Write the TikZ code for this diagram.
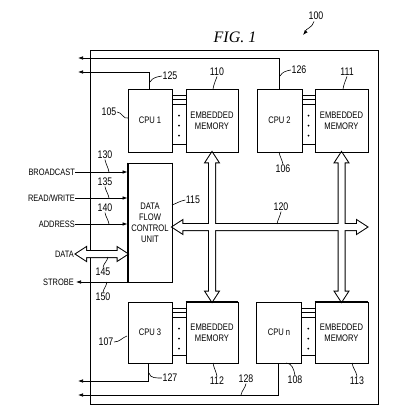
\documentclass[tikz,border=0pt]{standalone}
\usepackage{fontspec}
\setmainfont{Liberation Serif}
\newfontfamily\nsf[FakeStretch=0.8]{Liberation Sans}
\usetikzlibrary{calc,arrows.meta}
\newcommand\vbusp[3]{\draw[#1] (#2) -- ($(#2)+(\hh,\hl)$) -- ($(#2)+(\hw,\hl)$) -- ($(#3)+(\hw,-\hl)$) -- ($(#3)+(\hh,-\hl)$) -- (#3) -- ($(#3)+(-\hh,-\hl)$) -- ($(#3)+(-\hw,-\hl)$) -- ($(#2)+(-\hw,\hl)$) -- ($(#2)+(-\hh,\hl)$) -- cycle;}
\newcommand\hbusp[3]{\draw[#1] (#2) -- ($(#2)+(\hl,-\hh)$) -- ($(#2)+(\hl,-\hw)$) -- ($(#3)+(-\hl,-\hw)$) -- ($(#3)+(-\hl,-\hh)$) -- (#3) -- ($(#3)+(-\hl,\hh)$) -- ($(#3)+(-\hl,\hw)$) -- ($(#2)+(\hl,\hw)$) -- ($(#2)+(\hl,\hh)$) -- cycle;}
\newcommand\cbus[2]{%
  \draw[thin line] ($(#1.north east)+(0,7)$) -- ($(#2.north west |- #1.north east)+(0,7)$);
  \draw[thin line] ($(#1.north east)+(0,11)$) -- ($(#2.north west |- #1.north east)+(0,11)$);
  \draw[thin line] ($(#1.north east)+(0,16)$) -- ($(#2.north west |- #1.north east)+(0,16)$);
  \draw[thin line] ($(#1.south east)+(0,-8)$) -- ($(#2.south west |- #1.south east)+(0,-8)$);
  \foreach \dy in {27,37,47} {\fill ($(#1.north east)!0.5!(#2.north west |- #1.north east)+(0,\dy)$) circle (1pt);}
}
\newcommand\lab[6]{\node[num] (#1) at (#3) {#2}; \coordinate (#1e) at (#5); \draw[lead] (#1.#4) to[#6] (#1e);}
\def\hw{3}\def\hh{6.5}\def\hl{10}
\begin{document}
\begin{tikzpicture}[x=1pt,y=-1pt,
  box/.style={draw, line width=0.9pt, inner sep=0pt, align=center, font=\nsf\fontsize{9.5}{11}\selectfont},
  num/.style={inner sep=0.5pt, font=\nsf\fontsize{11}{12}\selectfont},
  signame/.style={inner sep=0pt, anchor=east, font=\nsf\fontsize{9.3}{10}\selectfont},
  lead/.style={line width=0.6pt},
  thin line/.style={line width=0.7pt},
  sig/.style={line width=0.7pt, -{Latex[length=5pt,width=3.6pt]}},
  busline/.style={line width=2pt},
  busfill/.style={fill=white, draw=none}]
\useasboundingbox (0,0) rectangle (401,415);
% frame
\draw[line width=0.9pt] (90,50) rectangle (378,404);
\node[anchor=base, font=\itshape\fontsize{16}{16}\selectfont] (fig) at (235,42.5) {FIG. 1};
% boxes
\node[box, minimum width=44pt, minimum height=63pt] (cpu1) at (150,120.5) {CPU 1};
\node[box, minimum width=52pt, minimum height=63pt] (m110) at (212,120.5) {EMBEDDED\\MEMORY};
\node[box, minimum width=45pt, minimum height=63pt] (cpu2) at (279.5,120.5) {CPU 2};
\node[box, minimum width=53pt, minimum height=63pt] (m111) at (341.5,120.5) {EMBEDDED\\MEMORY};
\node[box, minimum width=44pt, minimum height=119pt] (dfcu) at (150,222.5) {DATA\\FLOW\\CONTROL\\UNIT};
\node[box, minimum width=44pt, minimum height=61pt] (cpu3) at (150,332.5) {CPU 3};
\node[box, minimum width=52pt, minimum height=61pt] (m112) at (212,332.5) {EMBEDDED\\MEMORY};
\node[box, minimum width=45pt, minimum height=61pt] (cpun) at (279,332.5) {CPU n};
\node[box, minimum width=53pt, minimum height=61pt] (m113) at (341.5,332.5) {EMBEDDED\\MEMORY};
% cpu-memory buses
\cbus{cpu1}{m110}
\cbus{cpu2}{m111}
\cbus{cpu3}{m112}
\cbus{cpun}{m113}
% wide buses
\coordinate (hL) at ($(dfcu.east)+(0,4.5)$);
\coordinate (hR) at (367,227);
\coordinate (dL) at (76,254);
\coordinate (dR) at (dfcu.west |- dL);
\vbusp{busline}{m110.south}{m112.north}
\vbusp{busline}{m111.south}{m113.north}
\hbusp{busline}{hL}{hR}
\hbusp{busline}{dL}{dR}
\vbusp{busfill}{m110.south}{m112.north}
\vbusp{busfill}{m111.south}{m113.north}
\hbusp{busfill}{hL}{hR}
\hbusp{busfill}{dL}{dR}
\draw[line width=0.9pt] (m110.south west) -- (m110.south east) (m111.south west) -- (m111.south east)
  (m112.north west) -- (m112.north east) (m113.north west) -- (m113.north east)
  (dfcu.north east) -- (dfcu.south east) (dfcu.north west) -- (dfcu.south west);
% signal names
\node[signame] (bc) at (75,172) {BROADCAST};
\node[signame] (rw) at (75,198) {READ/WRITE};
\node[signame] (ad) at (75,224) {ADDRESS};
\node[signame] (da) at (74,254) {DATA};
\node[signame] (st) at (74,282) {STROBE};
\draw[sig] (bc.east) -- (bc.east -| dfcu.west);
\draw[sig] (rw.east) -- (rw.east -| dfcu.west);
\draw[sig] (ad.east) -- (ad.east -| dfcu.west);
\draw[sig] (st.east -| dfcu.west) -- ($(st.east)+(2,0)$);
% outputs
\coordinate (o1) at (78,72);
\coordinate (o2) at (78,58);
\coordinate (o3) at (78,381);
\coordinate (o4) at (78,395);
\draw[sig] ($(cpu1.north)+(-1,0)$) |- (o1);
\draw[sig] (cpu2.north) |- (o2);
\draw[sig] ($(cpu3.south)+(-2,0)$) |- (o3);
\draw[sig] ($(cpun.south)+(-1,0)$) |- (o4);
% reference labels
\node[num] (l100) at (316,16) {100};
\coordinate (l100e) at (303,35);
\draw[lead, -{Latex[length=5pt,width=3.6pt]}] ($(l100.south)+(-2,1)$) to[out=240,in=20] ($(l100e)!0.5!($(l100.south)+(-2,1)$)$) to[out=200,in=50] (l100e);
\lab{l125}{125}{170,76}{west}{150,82}{out=190,in=60}
\lab{l110}{110}{217,72}{south}{213,89}{out=250,in=80}
\lab{l126}{126}{299,70}{west}{280,76}{out=190,in=60}
\lab{l111}{111}{347,72}{south}{343,89}{out=250,in=80}
\lab{l105}{105}{109,112}{east}{128,118}{out=0,in=200}
\lab{l106}{106}{283,169}{north}{279,152}{out=100,in=280}
\lab{l115}{115}{193,200}{west}{172,205}{out=190,in=20}
\lab{l130}{130}{105,155}{south}{109,172}{out=280,in=100}
\lab{l135}{135}{105,182}{south}{109,198}{out=280,in=100}
\lab{l140}{140}{105,208}{south}{109,224}{out=280,in=100}
\lab{l145}{145}{103,272}{north}{108,257}{out=80,in=260}
\lab{l150}{150}{103,297}{north}{107,282}{out=80,in=260}
\lab{l120}{120}{281,207}{south}{277,224}{out=260,in=80}
\lab{l107}{107}{106,342}{east}{127,336}{out=0,in=200}
\lab{l127}{127}{170,378}{west}{149,373}{out=180,in=280}
\lab{l112}{112}{217,381}{north}{213,363}{out=100,in=280}
\lab{l128}{128}{246,379}{south}{241,395}{out=260,in=80}
\lab{l108}{108}{295,380}{north}{286,363}{out=100,in=0}
\lab{l113}{113}{357,381}{north}{352,363}{out=100,in=280}
\end{tikzpicture}
\end{document}
